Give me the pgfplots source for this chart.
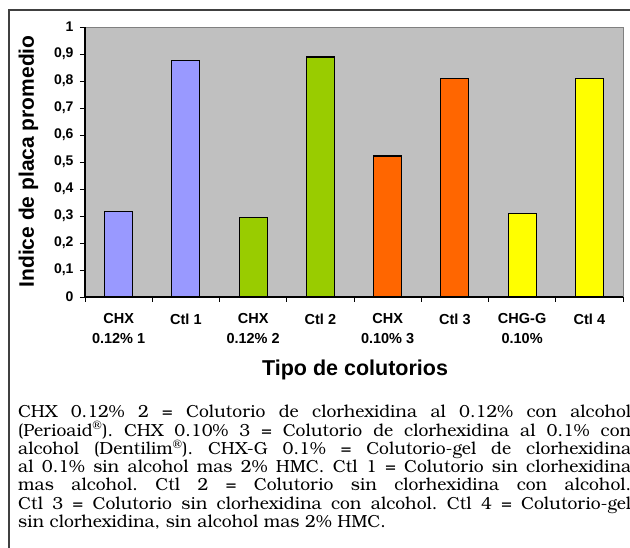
\documentclass[border=0pt]{standalone}
\usepackage{pgfplots}
\pgfplotsset{compat=1.18}
\usepackage{fontspec}
\setmainfont{Liberation Sans}
\newfontfamily\capfont{TeX Gyre Bonum}
\definecolor{lav}{HTML}{9999FF}
\definecolor{grn}{HTML}{99CC00}
\definecolor{org}{HTML}{FF6600}
\definecolor{yel}{HTML}{FFFF00}
\definecolor{bgc}{HTML}{C0C0C0}
\definecolor{frm}{HTML}{404040}
\begin{document}
\begin{tikzpicture}[x=1pt,y=1pt]
\useasboundingbox (0,0) rectangle (630,547);
\draw[frm, line width=1.3pt] (9,-5) -- (9,537) -- (640,537);
\begin{axis}[
  at={(85pt,250pt)}, anchor=south west,
  scale only axis, width=538pt, height=270pt,
  xmin=0.5, xmax=8.5, ymin=0, ymax=1,
  axis x line*=bottom, axis y line*=left,
  axis line style={black, line width=1.1pt},
  axis background/.style={fill=bgc, draw=gray, line width=0.8pt},
  ybar, bar width=28pt, bar shift=0pt,
  tick align=outside, major tick length=5pt,
  tick style={black, line width=0.9pt},
  ytick={0,0.1,0.2,0.3,0.4,0.5,0.6,0.7,0.8,0.9,1},
  /pgf/number format/assume math mode=true,
  yticklabel style={font=\bfseries\fontsize{14}{16}\selectfont, xshift=-3pt,
    /pgf/number format/.cd, use comma, fixed, precision=1},
  xtick={0.5,1.5,2.5,3.5,4.5,5.5,6.5,7.5,8.5},
  xticklabels={},
  extra x ticks={1,2,3,4,5,6,7,8},
  extra x tick labels={{CHX\\0.12\% 1},{Ctl 1},{CHX\\0.12\% 2},{Ctl 2},{CHX\\0.10\% 3},{Ctl 3},{CHG-G\\0.10\%},{Ctl 4}},
  extra x tick style={major tick length=0pt,
    xticklabel style={align=center, font=\bfseries\fontsize{14.5}{20}\selectfont, yshift=-13pt}},
  xlabel={Tipo de colutorios},
  xlabel style={font=\bfseries\fontsize{21.5}{24}\selectfont, at={(axis description cs:0.502,-0.27)}, anchor=center},
  ylabel={Indice de placa promedio},
  ylabel style={font=\bfseries\fontsize{21}{24}\selectfont, at={(axis description cs:-0.105,0.502)}, anchor=center, rotate=0},
  clip=false,
]
\addplot[fill=lav, draw=black, line width=1.2pt] coordinates {(1,0.318) (2,0.875)};
\addplot[fill=grn, draw=black, line width=1.2pt] coordinates {(3,0.295) (4,0.889)};
\addplot[fill=org, draw=black, line width=1.2pt] coordinates {(5,0.522) (6,0.810)};
\addplot[fill=yel, draw=black, line width=1.2pt] coordinates {(7,0.310) (8,0.810)};
\end{axis}
\node[anchor=north west, inner sep=0pt, text width=613pt, align=justify,
  font=\capfont\fontsize{17.5}{18.3}\selectfont] at (18,142) {\frenchspacing
CHX 0.12\% 2 = Colutorio de clorhexidina al 0.12\% con alcohol\linebreak
(Perioaid\textsuperscript{®}). CHX 0.10\% 3 = Colutorio de clorhexidina al 0.1\% con\linebreak
alcohol (Dentilim\textsuperscript{®}). CHX-G 0.1\% = Colutorio-gel de clorhexidina\linebreak
al 0.1\% sin alcohol mas 2\% HMC. Ctl 1 = Colutorio sin clorhexidina\linebreak
mas alcohol. Ctl 2 = Colutorio sin clorhexidina con alcohol.\linebreak
Ctl 3 = Colutorio sin clorhexidina con alcohol. Ctl 4 = Colutorio-gel\linebreak
sin clorhexidina, sin alcohol mas 2\% HMC.};
\end{tikzpicture}
\end{document}
